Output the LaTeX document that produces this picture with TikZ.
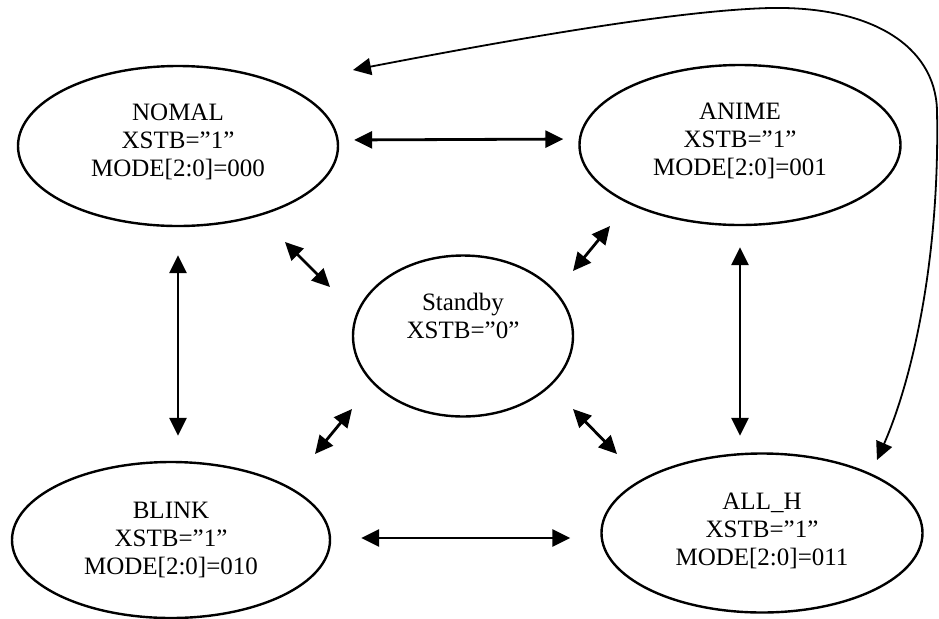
\documentclass[tikz,border=0pt]{standalone}
\usepackage{fontspec}
\setmainfont{Liberation Serif}
\usetikzlibrary{shapes.geometric,arrows.meta,calc}

\begin{document}
\begin{tikzpicture}[x=0.5pt,y=-0.5pt,
    state/.style={draw, ellipse, line width=1.2pt, inner sep=0pt, align=center,
      font=\fontsize{12.5}{14}\selectfont},
    link/.style={{Triangle[length=9pt,width=8.5pt]}-{Triangle[length=9pt,width=8.5pt]}, line width=1.4pt}]
  \useasboundingbox (0,0) rectangle (939,618);
  % The five states
  \node[state, minimum width=160pt, minimum height=80pt] (nomal) at (178,146) {NOMAL\\XSTB=”1”\\MODE[2:0]=000\\[-8pt]~};
  \node[state, minimum width=160.5pt, minimum height=80pt] (anime) at (740,145) {ANIME\\XSTB=”1”\\MODE[2:0]=001\\[-8pt]~};
  \node[state, minimum width=159pt, minimum height=78pt] (blink) at (171,540) {BLINK\\XSTB=”1”\\MODE[2:0]=010};
  \node[state, minimum width=160.5pt, minimum height=79.5pt] (allh) at (762,533) {ALL\_H\\XSTB=”1”\\MODE[2:0]=011\\[-10pt]~};
  \node[state, minimum width=110pt, minimum height=80.5pt] (standby) at (463,336) {Standby\\XSTB=”0”\\[6pt]~};
  % Transitions between the outer states
  \draw[link, shorten <=7.5pt, shorten >=7.5pt] ([yshift=3pt]nomal.east) -- ([yshift=3pt]anime.west);
  \draw[link, shorten <=15pt, shorten >=15pt] ([yshift=1pt]blink.east) -- ([yshift=1pt]blink.east -| allh.west);
  \draw[link, shorten <=14pt, shorten >=12.5pt] (nomal.south) -- (nomal.south |- blink.north);
  \draw[link, shorten <=10.5pt, shorten >=8.25pt] (anime.south) -- (anime.south |- allh.north);
  % Transitions to and from standby
  \draw[link] ($(nomal)+(107,96)$) -- ($(standby)+(-133,-49)$);
  \draw[link] ($(anime)+(-130,81)$) -- ($(standby)+(110,-65)$);
  \draw[link] ($(blink)+(144,-86)$) -- ($(standby)+(-111,73)$);
  \draw[link] ($(allh)+(-145,-79)$) -- ($(standby)+(110,73)$);
  % Long way round from ALL_H back to NOMAL
  \draw[link, line width=0.9pt] ($(allh)+(115,-73)$) .. controls (912,380) and (940,260) .. (937,110)
    .. controls (935,45) and (870,6) .. (770,8) .. controls (690,10) and (550,32) .. ($(nomal)+(175,-76)$);
\end{tikzpicture}
\end{document}
